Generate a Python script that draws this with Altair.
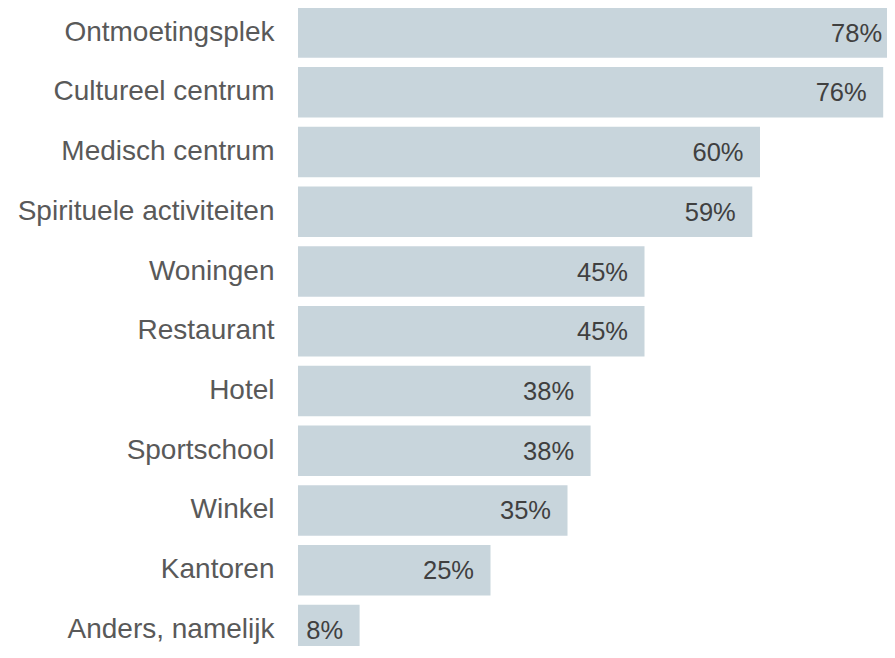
import altair as alt
import pandas as pd

categories = [
    "Ontmoetingsplek",
    "Cultureel centrum",
    "Medisch centrum",
    "Spirituele activiteiten",
    "Woningen",
    "Restaurant",
    "Hotel",
    "Sportschool",
    "Winkel",
    "Kantoren",
    "Anders, namelijk",
]
values = [78, 76, 60, 59, 45, 45, 38, 38, 35, 25, 8]

df = pd.DataFrame({"categorie": categories, "waarde": values})

FONT = "Liberation Sans"

y_enc = alt.Y(
    "categorie:N",
    sort=categories,
    scale=alt.Scale(range=[-0.7, 647.2], paddingInner=0.155, paddingOuter=0),
    axis=alt.Axis(
        title=None,
        domain=False,
        ticks=False,
        tickSize=0,
        grid=False,
        labelFont=FONT,
        labelFontSize=28,
        labelColor="#595959",
        labelPadding=24,
        labelLimit=400,
    ),
)
x_enc = alt.X(
    "waarde:Q",
    scale=alt.Scale(domain=[0, 78], range=[0, 600.6], nice=False, zero=True),
    axis=None,
)

bars = alt.Chart(df).mark_bar(color="#c8d5dc").encode(x=x_enc, y=y_enc)

labels = (
    alt.Chart(df)
    .transform_calculate(label="format(datum.waarde, 'd') + '%'")
    .mark_text(
        align="right",
        baseline="middle",
        dx=-16.5,
        dy=1,
        font=FONT,
        fontSize=25.5,
        color="#404040",
    )
    .encode(x=x_enc, y=y_enc, text="label:N")
)

chart = (
    alt.layer(bars, labels)
    .properties(
        width=589,
        height=638,
        autosize=alt.AutoSizeParams(type="none"),
        padding={"left": 290, "top": 0, "right": 0, "bottom": 0},
        background="white",
    )
    .configure_view(stroke=None)
)

chart.save("out.html", embed_options={"renderer": "svg", "actions": False})
